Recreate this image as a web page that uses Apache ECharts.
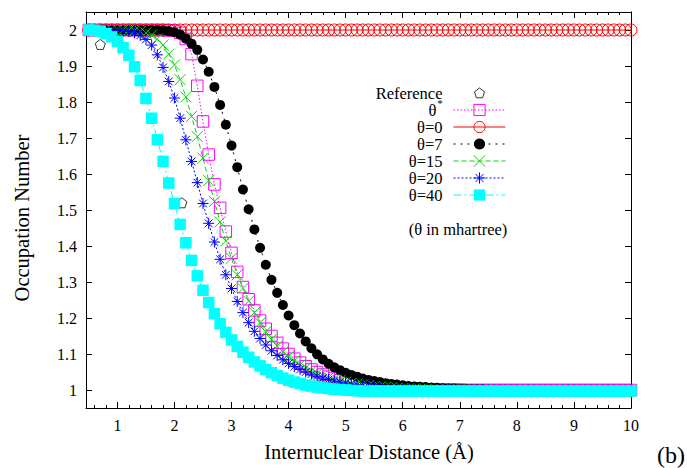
<!DOCTYPE html>
<html>
<head>
<meta charset="utf-8">
<script src="https://cdn.jsdelivr.net/npm/echarts@6/dist/echarts.min.js"></script>
<style>
html, body { margin: 0; padding: 0; background: #fff; }
#chart { width: 687px; height: 468px; }
</style>
</head>
<body>
<div id="chart"></div>
<script>
// internuclear distance (Å)
var distance = [0.5,0.6,0.7,0.8,0.9,
  1.0,1.1,1.2,1.3,1.4,1.5,1.6,1.7,1.8,1.9,
  2.0,2.1,2.2,2.3,2.4,2.5,2.6,2.7,2.8,2.9,
  3.0,3.1,3.2,3.3,3.4,3.5,3.6,3.7,3.8,3.9,
  4.0,4.1,4.2,4.3,4.4,4.5,4.6,4.7,4.8,4.9,
  5.0,5.1,5.2,5.3,5.4,5.5,5.6,5.7,5.8,5.9,
  6.0,6.1,6.2,6.3,6.4,6.5,6.6,6.7,6.8,6.9,
  7.0,7.1,7.2,7.3,7.4,7.5,7.6,7.7,7.8,7.9,
  8.0,8.1,8.2,8.3,8.4,8.5,8.6,8.7,8.8,8.9,
  9.0,9.1,9.2,9.3,9.4,9.5,9.6,9.7,9.8,9.9,
  10.0];

var occStar = [2,2,2,2,2,
  2,2,2,2,2,2,2,2,2,1.999,
  1.998,1.992,1.975,1.933,1.845,1.746,1.654,1.571,1.506,1.44,
  1.381,1.328,1.286,1.252,1.221,1.193,1.17,1.15,1.131,1.115,
  1.1,1.087,1.076,1.066,1.057,1.05,1.043,1.037,1.032,1.027,
  1.023,1.02,1.017,1.014,1.012,1.01,1.009,1.007,1.006,1.005,
  1.004,1.004,1.003,1.003,1.002,1.002,1.001,1.001,1.001,1.001,
  1.001,1,1,1,1,1,1,1,1,1,
  1,1,1,1,1,1,1,1,1,1,
  1,1,1,1,1,1,1,1,1,1,
  1];

var occT0 = [2,2,2,2,2,
  2,2,2,2,2,2,2,2,2,2,
  2,2,2,2,2,2,2,2,2,2,
  2,2,2,2,2,2,2,2,2,2,
  2,2,2,2,2,2,2,2,2,2,
  2,2,2,2,2,2,2,2,2,2,
  2,2,2,2,2,2,2,2,2,2,
  2,2,2,2,2,2,2,2,2,2,
  2,2,2,2,2,2,2,2,2,2,
  2,2,2,2,2,2,2,2,2,2,
  2];

var occT7 = [2,2,2,2,2,
  2,2,2,2,2,2,2,2,1.999,1.997,
  1.994,1.987,1.976,1.962,1.945,1.918,1.884,1.842,1.792,1.737,
  1.679,1.619,1.557,1.502,1.446,1.395,1.348,1.306,1.27,1.236,
  1.207,1.18,1.157,1.135,1.116,1.099,1.085,1.073,1.063,1.055,
  1.048,1.042,1.037,1.032,1.028,1.025,1.022,1.019,1.017,1.015,
  1.013,1.011,1.01,1.009,1.008,1.007,1.006,1.005,1.004,1.004,
  1.003,1.003,1.002,1.002,1.002,1.001,1.001,1.001,1.001,1.001,
  1.001,1,1,1,1,1,1,1,1,1,
  1,1,1,1,1,1,1,1,1,1,
  1];

var occT15 = [2,2,2,2,2,
  2,2,1.999,1.998,1.996,1.992,1.986,1.975,1.958,1.933,
  1.903,1.862,1.814,1.76,1.704,1.644,1.582,1.524,1.467,1.414,
  1.366,1.32,1.282,1.247,1.215,1.187,1.162,1.141,1.122,1.106,
  1.093,1.081,1.07,1.061,1.053,1.046,1.04,1.035,1.03,1.026,
  1.022,1.019,1.016,1.014,1.012,1.01,1.008,1.007,1.006,1.005,
  1.004,1.003,1.003,1.002,1.002,1.001,1.001,1.001,1.001,1.001,
  1.001,1,1,1,1,1,1,1,1,1,
  1,1,1,1,1,1,1,1,1,1,
  1,1,1,1,1,1,1,1,1,1,
  1];

var occT20 = [2,2,2,2,2,
  1.999,1.998,1.996,1.992,1.985,1.974,1.958,1.931,1.896,1.857,
  1.811,1.755,1.695,1.635,1.576,1.518,1.463,1.411,1.363,1.32,
  1.282,1.246,1.215,1.187,1.163,1.143,1.125,1.109,1.096,1.084,
  1.074,1.065,1.057,1.05,1.044,1.038,1.033,1.029,1.025,1.022,
  1.019,1.016,1.014,1.012,1.01,1.009,1.007,1.006,1.005,1.004,
  1.004,1.003,1.003,1.002,1.002,1.001,1.001,1.001,1.001,1.001,
  1.001,1,1,1,1,1,1,1,1,1,
  1,1,1,1,1,1,1,1,1,1,
  1,1,1,1,1,1,1,1,1,1,
  1];

var occT40 = [2,1.999,1.996,1.99,1.981,
  1.968,1.951,1.93,1.898,1.86,1.81,1.755,1.695,1.635,1.575,
  1.518,1.46,1.409,1.36,1.317,1.277,1.243,1.212,1.184,1.16,
  1.139,1.121,1.105,1.091,1.078,1.067,1.057,1.048,1.04,1.033,
  1.027,1.022,1.018,1.014,1.011,1.008,1.006,1.004,1.002,1.001,
  1,0.999,0.998,0.997,0.997,0.997,0.997,0.997,0.997,0.997,
  0.997,0.997,0.997,0.997,0.997,0.997,0.997,0.997,0.997,0.997,
  0.997,0.997,0.997,0.997,0.997,0.997,0.997,0.997,0.997,0.997,
  0.997,0.997,0.997,0.997,0.997,0.997,0.997,0.997,0.997,0.997,
  0.997,0.997,0.997,0.997,0.997,0.997,0.997,0.997,0.997,0.997,
  0.997];

// reference points
var refX = [0.7, 2.13];
var refY = [1.96, 1.52];

var xTicks = [1,2,3,4,5,6,7,8,9,10];
var yTicks = [1,1.1,1.2,1.3,1.4,1.5,1.6,1.7,1.8,1.9,2];
var xMinor = [];
for (var k = 3; k < 50; k++) { if (k % 5 != 0) xMinor.push(k / 5); }

var FONT = 'Liberation Serif';
var gridBox = { left: 86, right: 56, top: 12, bottom: 60 };

function pairs(xs, ys) {
  var out = [];
  for (var i = 0; i < ys.length; i++) out.push([xs[i], ys[i]]);
  return out;
}

function lineSeries(name, ys, symbol, size, color, fill, dash) {
  return {
    name: name,
    type: 'line',
    data: pairs(distance, ys),
    symbol: symbol,
    symbolSize: size,
    showAllSymbol: true,
    clip: false,
    silent: true,
    animation: false,
    itemStyle: { color: fill, borderColor: color, borderWidth: fill === color ? 0 : 1 },
    lineStyle: { color: color, width: 1, type: dash },
    emphasis: { disabled: true }
  };
}

var pathX = 'path://M0,0L10,10M10,0L0,10';
var pathStar = 'path://M5,0L5,10M0,5L10,5M1.5,1.5L8.5,8.5M8.5,1.5L1.5,8.5';
var pathPent = 'path://M5,0L10,3.8L8.1,9.8L1.9,9.8L0,3.8Z';
// same pentagon with empty margin, so the legend icon stays small
var pathPentKey = 'path://M-2,-2M12,12M5,0L10,3.8L8.1,9.8L1.9,9.8L0,3.8Z';
var NONE = 'rgba(0,0,0,0)';

var chart = echarts.init(document.getElementById('chart'), null, { renderer: 'svg' });

var axisBase = {
  type: 'value', min: 0.45, max: 10,
  splitLine: { show: false },
  axisLine: { show: true, lineStyle: { color: '#000', width: 1 } }
};
var yBase = {
  type: 'value', min: 0.95, max: 2.05,
  splitLine: { show: false },
  axisLine: { show: true, lineStyle: { color: '#000', width: 1 } }
};

var option = {
  backgroundColor: '#fff',
  animation: false,
  grid: [
    Object.assign({ containLabel: false }, gridBox),
    Object.assign({ containLabel: false }, gridBox)
  ],
  xAxis: [
    Object.assign({}, axisBase, {
      gridIndex: 0, position: 'bottom',
      axisTick: { inside: true, length: 6, customValues: xTicks, lineStyle: { color: '#000' } },
      axisLabel: { customValues: xTicks, margin: 9, color: '#000', fontFamily: FONT, fontSize: 16 }
    }),
    Object.assign({}, axisBase, {
      gridIndex: 0, position: 'top',
      axisTick: { inside: true, length: 6, customValues: xTicks, lineStyle: { color: '#000' } },
      axisLabel: { show: false }
    }),
    Object.assign({}, axisBase, {
      gridIndex: 1, position: 'bottom',
      axisLine: { show: false },
      axisTick: { inside: true, length: 3, customValues: xMinor, lineStyle: { color: '#000' } },
      axisLabel: { show: false }
    }),
    Object.assign({}, axisBase, {
      gridIndex: 1, position: 'top',
      axisLine: { show: false },
      axisTick: { inside: true, length: 3, customValues: xMinor, lineStyle: { color: '#000' } },
      axisLabel: { show: false }
    })
  ],
  yAxis: [
    Object.assign({}, yBase, {
      gridIndex: 0, position: 'left',
      axisTick: { inside: true, length: 6, customValues: yTicks, lineStyle: { color: '#000' } },
      axisLabel: {
        customValues: yTicks, margin: 9, color: '#000', fontFamily: FONT, fontSize: 16,
        formatter: function (v) { return String(Math.round(v * 10) / 10); }
      }
    }),
    Object.assign({}, yBase, {
      gridIndex: 0, position: 'right',
      axisTick: { inside: true, length: 6, customValues: yTicks, lineStyle: { color: '#000' } },
      axisLabel: { show: false }
    }),
    Object.assign({}, yBase, { gridIndex: 1, show: false })
  ],
  legend: {
    orient: 'vertical', align: 'right',
    right: 181, top: 84.5, padding: 0,
    itemWidth: 52, itemHeight: 14, itemGap: 0,
    selectedMode: false,
    textStyle: {
      fontFamily: FONT, fontSize: 16.5, color: '#000', lineHeight: 14, padding: [0, 6, 0, 0],
      rich: { p: { fontFamily: FONT, fontSize: 16.5, color: '#000', padding: [0, 6, 0, 0] } }
    },
    formatter: function (n) { return n === 'θ*' ? '{p|θ}' : n; },
    lineStyle: { width: 1 },
    data: [
      { name: 'Reference', icon: pathPentKey, itemStyle: { borderWidth: 1 } },
      { name: 'θ*', itemStyle: { borderWidth: 1 } },
      { name: 'θ=0', itemStyle: { borderWidth: 1 } },
      { name: 'θ=7' },
      { name: 'θ=15', itemStyle: { borderWidth: 1 } },
      { name: 'θ=20', itemStyle: { borderWidth: 1 } },
      { name: 'θ=40' }
    ]
  },
  graphic: [
    { type: 'text', x: 369, y: 452, silent: true,
      style: { text: 'Internuclear Distance (Å)', fontFamily: FONT, fontSize: 20.5, fill: '#000', align: 'center', verticalAlign: 'middle' } },
    { type: 'text', x: 22, y: 218, rotation: Math.PI / 2, silent: true,
      style: { text: 'Occupation Number', fontFamily: FONT, fontSize: 20.5, fill: '#000', align: 'center', verticalAlign: 'middle' } },
    { type: 'text', x: 671, y: 455, silent: true,
      style: { text: '(b)', fontFamily: FONT, fontSize: 24, fill: '#000', align: 'center', verticalAlign: 'middle' } },
    { type: 'text', x: 458, y: 229, silent: true,
      style: { text: '(θ in mhartree)', fontFamily: FONT, fontSize: 16.5, fill: '#000', align: 'center', verticalAlign: 'middle' } },
    { type: 'text', x: 440, y: 103, silent: true,
      style: { text: '*', fontFamily: FONT, fontSize: 11, fill: '#000', align: 'center', verticalAlign: 'middle' } }
  ],
  series: [
    {
      name: 'Reference', type: 'scatter',
      data: pairs(refX, refY),
      symbol: pathPent, symbolSize: 10, clip: false, silent: true,
      itemStyle: { color: NONE, borderColor: '#000', borderWidth: 1 },
      emphasis: { disabled: true }
    },
    lineSeries('θ*', occStar, 'rect', 11.5, '#ff00ff', NONE, [1.5, 2]),
    lineSeries('θ=0', occT0, 'circle', 12, '#ff0000', NONE, 'solid'),
    lineSeries('θ=7', occT7, 'circle', 10, '#000000', '#000000', [2, 5]),
    lineSeries('θ=15', occT15, pathX, 11, '#00dd00', NONE, [5, 3]),
    lineSeries('θ=20', occT20, pathStar, 11, '#0000ff', NONE, [2, 2]),
    lineSeries('θ=40', occT40, 'rect', 11.5, '#00ffff', '#00ffff', [8, 3, 2, 3])
  ]
};

chart.setOption(option);
</script>
</body>
</html>
